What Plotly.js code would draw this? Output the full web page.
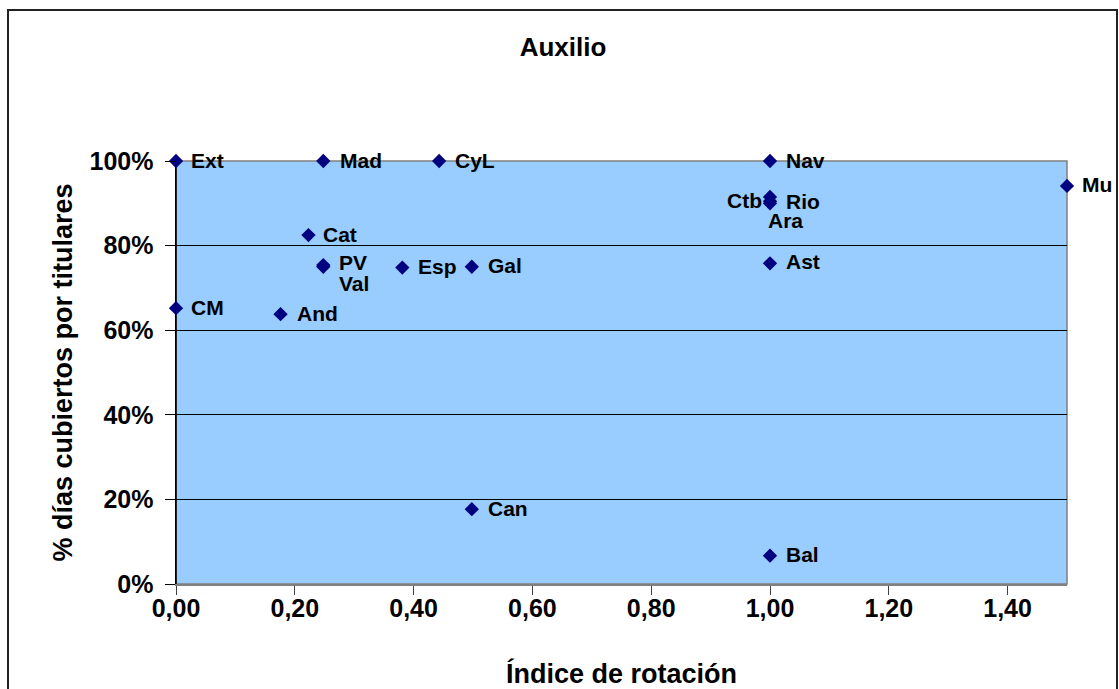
<!DOCTYPE html>
<html>
<head>
<meta charset="utf-8">
<script src="https://cdn.plot.ly/plotly-3.0.1.min.js"></script>
<style>
html,body{margin:0;padding:0;background:#fff;}
#chart{width:1119px;height:689px;}
</style>
</head>
<body>
<div id="chart"></div>
<script>
// Data
const regions = ["Ext","Mad","CyL","Nav","Mu","Ctb","Rio","Ara","Cat","PV","Val","Esp","Gal","Ast","CM","And","Can","Bal"];
const rotationIndex = [0.00,0.248,0.443,1.00,1.50,1.00,1.00,1.00,0.223,0.248,0.248,0.381,0.498,1.00,0.00,0.176,0.498,1.00];
const coveredDays =   [1.00,1.00,1.00,1.00,0.941,0.915,0.905,0.900,0.825,0.754,0.750,0.748,0.750,0.758,0.652,0.638,0.177,0.067];
// label placement (styling only): anchor side and pixel offsets from the marker
const labelAnchor = ["left","left","left","left","left","right","left","left","left","left","left","left","left","left","left","left","left","left"];
const labelDx =     [14,16,15,15,14,-7,15,-3,14,15,15,15,15,15,14,15,15,15];
const labelDy =     [1,1,1,1,1,-4,0,-17,1,3,-17,1,1,2,1,1,1,1];
const xTickVals = [0,0.2,0.4,0.6,0.8,1.0,1.2,1.4];
const yTickVals = [0,0.2,0.4,0.6,0.8,1.0];

const FONT = "Arial, 'Liberation Sans', sans-serif";

const trace = {
  x: rotationIndex,
  y: coveredDays,
  text: regions,
  mode: "markers",
  type: "scatter",
  marker: {symbol: "diamond", size: 11, color: "#000080"},
  cliponaxis: false,
  hoverinfo: "x+y+text"
};

const labels = regions.map((r, i) => ({
  x: rotationIndex[i], y: coveredDays[i], xref: "x", yref: "y",
  text: r, showarrow: false,
  xanchor: labelAnchor[i], yanchor: "middle",
  xshift: labelDx[i], yshift: labelDy[i],
  font: {family: FONT, size: 21, color: "#000", weight: "bold"},
  borderpad: 0
}));

const layout = {
  width: 1119,
  height: 689,
  margin: {l: 176, r: 52, t: 161, b: 105, pad: 0},
  paper_bgcolor: "#ffffff",
  plot_bgcolor: "#99CCFF",
  separators: ",.",
  showlegend: false,
  font: {family: FONT, color: "#000"},
  title: {
    text: "Auxilio",
    font: {family: FONT, size: 26, color: "#000", weight: "bold"},
    x: 563/1119, xref: "container", xanchor: "center",
    y: 1 - 47/689, yref: "container", yanchor: "middle"
  },
  xaxis: {
    range: [0, 1.5],
    tickvals: xTickVals,
    tickformat: ".2f",
    showgrid: false,
    zeroline: false,
    showline: true,
    linecolor: "#808080",
    linewidth: 1.5,
    ticks: "outside",
    ticklen: 9,
    tickcolor: "#404040",
    tickwidth: 1,
    tickfont: {family: FONT, size: 25, color: "#000", weight: "bold"},
    ticklabelstandoff: -8,
    title: {text: "Índice de rotación", font: {family: FONT, size: 27, color: "#000", weight: "bold"}, standoff: 44},
    fixedrange: true
  },
  yaxis: {
    range: [0, 1],
    tickvals: yTickVals,
    tickformat: ".0%",
    showgrid: true,
    gridcolor: "#000000",
    gridwidth: 1,
    zeroline: false,
    showline: true,
    linecolor: "#000000",
    linewidth: 1.5,
    ticks: "outside",
    ticklen: 10,
    tickcolor: "#000",
    tickfont: {family: FONT, size: 25, color: "#000", weight: "bold"},
    ticklabelstandoff: 6,
    title: {text: "% días cubiertos por titulares", font: {family: FONT, size: 27, color: "#000", weight: "bold"}, standoff: 9},
    fixedrange: true
  },
  annotations: labels,
  shapes: [
    {type: "rect", xref: "paper", yref: "paper", x0: 0, x1: 1, y0: 0, y1: 1,
     line: {color: "#808080", width: 1.5}, fillcolor: "rgba(0,0,0,0)", layer: "between"},
    {type: "line", xref: "paper", yref: "paper", x0: 0, x1: 0, y0: 0, y1: 1,
     line: {color: "#000", width: 1.5}, layer: "between"},
    {type: "rect", xref: "paper", yref: "paper",
     x0: (8-176)/891, x1: (1117-176)/891, y0: (584-700)/423, y1: (584-10)/423,
     line: {color: "#222", width: 2}, fillcolor: "rgba(0,0,0,0)", layer: "above"}
  ]
};

Plotly.newPlot("chart", [trace], layout, {displayModeBar: false, staticPlot: true});
</script>
</body>
</html>
